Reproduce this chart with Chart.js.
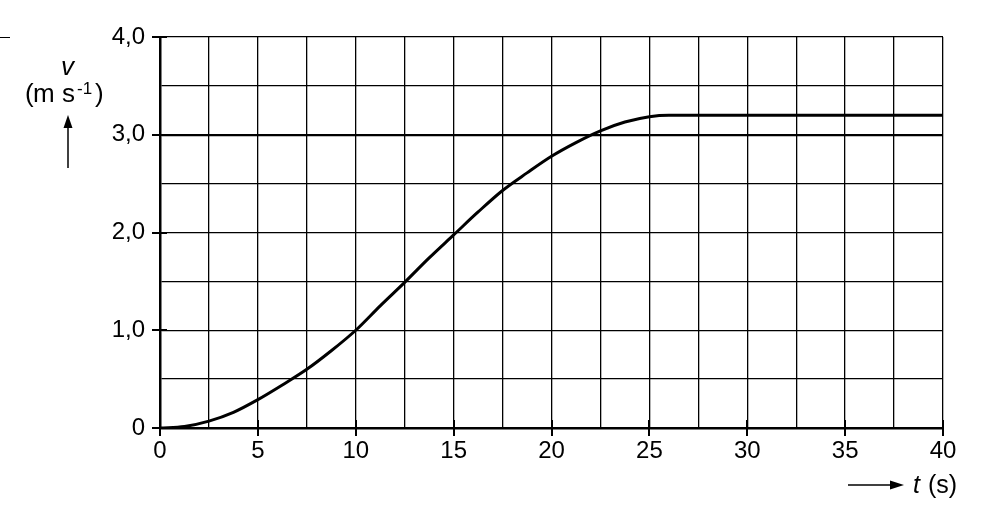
<!DOCTYPE html>
<html>
<head>
<meta charset="utf-8">
<script src="https://cdn.jsdelivr.net/npm/chart.js@4/dist/chart.umd.min.js"></script>
<style>
  html, body { margin: 0; padding: 0; background: #fff; }
  #wrap { width: 985px; height: 523px; position: relative; }
</style>
</head>
<body>
<div id="wrap"><canvas id="chart-v"></canvas></div>
<script>
// waktu (s) dan kecepatan (m/s)
const timeS = [0, 1.25, 2.5, 3.75, 5, 6.25, 7.5, 8.75, 10, 11.25, 12.5, 13.75, 15, 16.25, 17.5, 18.75, 20, 21.25, 22.5, 23.75, 25, 26, 40];
const speed = [0, 0.015, 0.07, 0.16, 0.29, 0.44, 0.6, 0.79, 1.0, 1.25, 1.49, 1.74, 1.975, 2.21, 2.43, 2.61, 2.78, 2.92, 3.04, 3.13, 3.185, 3.2, 3.2];

// tick utama (berlabel)
const timeTicks = [0, 5, 10, 15, 20, 25, 30, 35, 40];
const speedTicks = [0, 1, 2, 3, 4];

const FONT = '"Liberation Sans", Arial, sans-serif';

function line(ctx, x1, y1, x2, y2) {
  ctx.beginPath();
  ctx.moveTo(x1, y1);
  ctx.lineTo(x2, y2);
  ctx.stroke();
}

// tanda tick, panah dan judul sumbu
const extras = {
  id: 'extras',
  afterDraw(chart) {
    const { ctx, chartArea, scales: { x, y } } = chart;
    ctx.save();
    ctx.strokeStyle = '#000';
    ctx.fillStyle = '#000';

    ctx.lineWidth = 2;
    timeTicks.forEach(t => {
      const px = Math.round(x.getPixelForValue(t));
      line(ctx, px, chartArea.bottom - 8, px, chartArea.bottom + 8);
    });
    speedTicks.forEach(v => {
      const py = Math.round(y.getPixelForValue(v));
      line(ctx, chartArea.left - 8, py, chartArea.left + 7, py);
    });

    // garis kecil di pojok kiri atas
    ctx.lineWidth = 1;
    const topY = Math.round(y.getPixelForValue(4)) + 0.5;
    line(ctx, 0, topY, 10, topY);

    // judul sumbu y
    ctx.textBaseline = 'alphabetic';
    ctx.textAlign = 'left';
    ctx.font = 'italic 26px ' + FONT;
    ctx.fillText('v', 61, 75);
    ctx.font = '26px ' + FONT;
    ctx.fillText('(', 25, 102);
    ctx.fillText('m', 33, 102);
    ctx.fillText('s', 62, 102);
    ctx.fillText(')', 95, 102);
    ctx.font = '17px ' + FONT;
    ctx.fillText('-1', 77, 94);

    // panah ke atas
    ctx.lineWidth = 1.5;
    line(ctx, 68, 168, 68, 124);
    ctx.beginPath();
    ctx.moveTo(68, 115);
    ctx.lineTo(63.5, 128);
    ctx.lineTo(72.5, 128);
    ctx.closePath();
    ctx.fill();

    // judul sumbu x
    line(ctx, 848, 485, 892, 485);
    ctx.beginPath();
    ctx.moveTo(904, 485);
    ctx.lineTo(890, 480.5);
    ctx.lineTo(890, 489.5);
    ctx.closePath();
    ctx.fill();
    ctx.font = 'italic 25px ' + FONT;
    ctx.fillText('t', 913, 493);
    ctx.font = '25px ' + FONT;
    ctx.fillText('(s)', 928, 493);

    ctx.restore();
  }
};

new Chart(document.getElementById('chart-v'), {
  type: 'scatter',
  data: {
    datasets: [{
      data: timeS.map((t, i) => ({ x: t, y: speed[i] })),
      showLine: true,
      borderColor: '#000',
      borderWidth: 3,
      pointRadius: 0,
      cubicInterpolationMode: 'monotone',
      fill: false
    }]
  },
  options: {
    responsive: true,
    maintainAspectRatio: false,
    animation: false,
    events: [],
    layout: { padding: { top: 37, right: 42, left: 0, bottom: 0 } },
    plugins: {
      legend: { display: false },
      tooltip: { enabled: false }
    },
    scales: {
      x: {
        type: 'linear',
        min: 0,
        max: 40,
        afterFit: scale => { scale.height = 95; },
        ticks: {
          stepSize: 2.5,
          autoSkip: false,
          maxRotation: 0,
          padding: 9,
          color: '#000',
          font: { family: FONT, size: 24 },
          callback: v => (v % 5 === 0 ? String(v) : '')
        },
        grid: { color: '#000', lineWidth: 1.3, drawTicks: false },
        border: { color: '#000', width: 2.5 }
      },
      y: {
        min: 0,
        max: 4,
        afterFit: scale => { scale.width = 160; },
        ticks: {
          stepSize: 0.5,
          autoSkip: false,
          padding: 15,
          color: '#000',
          font: { family: FONT, size: 24 },
          callback: v => (v === 0 ? '0' : (v % 1 === 0 ? v.toFixed(1).replace('.', ',') : ''))
        },
        grid: {
          color: '#000',
          lineWidth: ctx => (ctx.tick && ctx.tick.value === 3 ? 2.2 : 1.3),
          drawTicks: false
        },
        border: { color: '#000', width: 2.5 }
      }
    }
  },
  plugins: [extras]
});
</script>
</body>
</html>
